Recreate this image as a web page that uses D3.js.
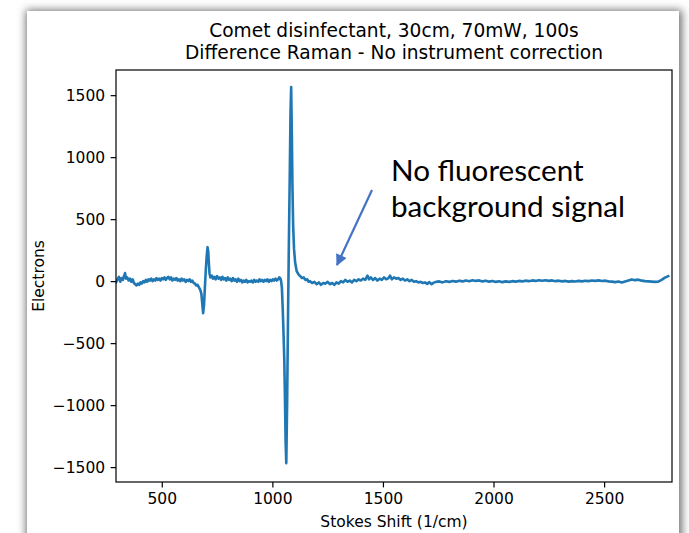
<!DOCTYPE html>
<html><head><meta charset="utf-8">
<script src="https://cdn.jsdelivr.net/npm/d3@7"></script>
<style>body{margin:0;background:#fff;overflow:hidden}</style>
</head><body>
<svg id="c" width="689" height="533"></svg>
<script>
// ---- data ----
const shiftX = [
293,300,306,312,318,324,330,334,338,344,350,356,362,368,374,380,386,392,398,404,410,416,422,428,434,440,446,452,458,464,470,476,482,488,494,500,506,512,518,524,530,536,542,548,554,560,566,572,578,584,590,596,602,608,614,620,626,632,638,644,650,656,662,668,674,679,683,687,691,695,699,703,707,710,713,716,720,
726,732,738,744,750,756,762,768,774,780,786,792,798,804,810,816,822,828,834,840,846,852,858,864,870,876,882,888,894,900,906,912,918,924,930,936,942,948,954,960,966,972,978,984,990,996,1002,1008,1014,1020,1026,1031,1035,1039,1043,1047,1051,1054,1057,1060,1063,1067,1071,1075,1079,1082,1085,1088,1091,1094,1098,1103,1110,1118,1126,1134,1142,1150,1158,1164,
1170,1180,1190,1200,1210,1220,1230,1240,1250,1260,1270,1280,1290,1300,1310,1320,1330,1340,1350,1360,1370,1380,1390,1400,1410,1420,1430,1437,1445,1455,1465,1475,1485,1495,1505,1515,1525,1532,1540,1550,1560,1570,1580,1590,1600,1610,1620,1630,1640,1650,1660,1670,1680,1690,1700,1710,1720,1730,1740,1755,1770,1785,1800,1815,1830,1845,1860,1875,1890,1905,1920,1935,1950,1965,1980,1995,2010,2025,2040,2055,2070,2085,2100,2115,2130,2145,2160,2175,2190,2205,2220,2235,2250,2265,2280,2295,2310,2325,2340,2355,2370,2385,2400,2415,2430,2445,2460,2475,2490,2505,2520,2535,2550,2565,2580,2595,2610,2625,2640,2655,2670,2685,2700,2715,2730,2745,2760,2775,2790,2800,2807
];
const electrons = [
-10,15,35,-5,25,10,45,65,20,30,5,20,-5,15,-15,-25,-35,-20,-30,-10,-20,0,-10,10,-5,15,5,20,0,15,5,25,10,20,5,25,15,30,10,25,35,15,30,5,20,10,25,5,15,0,20,5,15,-5,10,0,15,-5,5,-15,-20,-35,-30,-50,-70,-100,-180,-258,-190,-50,90,200,274,240,140,60,30,
45,20,35,15,40,20,30,10,35,15,25,5,30,10,20,0,25,5,15,-5,20,0,10,-10,5,-5,10,-10,0,-5,5,-10,10,-5,5,-5,15,0,10,-5,10,0,15,-5,10,0,15,5,20,5,15,30,25,5,-50,-230,-450,-640,-950,-1300,-1468,-950,-250,350,900,1350,1565,1200,750,450,260,150,80,55,40,25,30,10,15,-5,
0,-15,-5,-25,-10,-30,-15,-20,-5,-25,-15,-30,-10,-20,0,-10,10,-5,5,-10,10,0,15,5,20,10,45,15,30,10,25,5,20,10,30,15,25,45,15,30,20,25,10,20,5,15,0,10,-5,0,-10,-5,-15,-10,-22,-8,-25,-12,-6,-2,-10,0,-6,2,-4,4,-2,6,0,8,2,6,-2,4,-4,2,-6,0,-8,-2,-6,0,-4,2,-2,4,0,6,2,8,3,7,2,6,0,4,-2,2,-4,0,-3,2,-2,3,0,5,2,6,1,4,-2,-4,-8,-3,-10,-2,6,14,8,12,4,0,-2,-4,-6,-4,10,28,40
];
const xTicks = [500, 1000, 1500, 2000, 2500];
const yTicks = [-1500, -1000, -500, 0, 500, 1000, 1500];
const xLimits = [293, 2807];
const yLimits = [-1620, 1703];
const titleLines = ["Comet disinfectant, 30cm, 70mW, 100s", "Difference Raman - No instrument correction"];
const xLabel = "Stokes Shift (1/cm)";
const yLabel = "Electrons";
const noteLines = ["No fluorescent", "background signal"];

// ---- drawing ----
const svg = d3.select("#c");
const W = 689, H = 533;
const m = {left: 116, top: 70, right: 672, bottom: 482};
const font = "'DejaVu Sans', sans-serif";

const defs = svg.append("defs");
const f = defs.append("filter").attr("id", "sh").attr("x", "-10%").attr("y", "-10%").attr("width", "120%").attr("height", "120%");
f.append("feGaussianBlur").attr("stdDeviation", 4.5);
defs.append("clipPath").attr("id", "clip").append("rect")
  .attr("x", m.left).attr("y", m.top).attr("width", m.right - m.left).attr("height", m.bottom - m.top);
defs.append("marker").attr("id", "ah").attr("viewBox", "0 0 10 10").attr("refX", 9).attr("refY", 5)
  .attr("markerWidth", 5.6).attr("markerHeight", 5.2).attr("markerUnits", "strokeWidth").attr("orient", "auto")
  .append("path").attr("d", "M0,0 L10,5 L0,10 z").attr("fill", "#4472c4");

svg.append("rect").attr("width", W).attr("height", H).attr("fill", "#fff");
svg.append("rect").attr("x", 26).attr("y", 10).attr("width", 656).attr("height", 560)
  .attr("fill", "#6e6e6e").attr("filter", "url(#sh)");
svg.append("rect").attr("x", 27).attr("y", 11).attr("width", 652).attr("height", 560).attr("fill", "#fff");

const x = d3.scaleLinear().domain(xLimits).range([m.left, m.right]);
const y = d3.scaleLinear().domain(yLimits).range([m.bottom, m.top]);

const pts = shiftX.map((v, i) => [v, electrons[i]]);
svg.append("path").datum(pts)
  .attr("clip-path", "url(#clip)")
  .attr("fill", "none").attr("stroke", "#1f77b4").attr("stroke-width", 2.6)
  .attr("stroke-linejoin", "round").attr("stroke-linecap", "square")
  .attr("d", d3.line().x(d => x(d[0])).y(d => y(d[1])));

const fmt = v => String(v).replace("-", "\u2212");
const xa = svg.append("g").attr("transform", `translate(0,${m.bottom})`)
  .call(d3.axisBottom(x).tickValues(xTicks).tickFormat(fmt).tickSize(5.4).tickPadding(5.4));
const ya = svg.append("g").attr("transform", `translate(${m.left},0)`)
  .call(d3.axisLeft(y).tickValues(yTicks).tickFormat(fmt).tickSize(5.4).tickPadding(5.4));
[xa, ya].forEach(g => {
  g.select(".domain").remove();
  g.selectAll(".tick line").attr("stroke", "#000").attr("stroke-width", 1.2);
  g.selectAll(".tick text").attr("font-family", font).attr("font-size", 15.5).attr("fill", "#000");
});

svg.append("rect").attr("x", m.left).attr("y", m.top).attr("width", m.right - m.left).attr("height", m.bottom - m.top)
  .attr("fill", "none").attr("stroke", "#000").attr("stroke-width", 1.2);

const cx = (m.left + m.right) / 2;
svg.append("g").selectAll("text").data(titleLines).join("text")
  .attr("x", cx).attr("y", (d, i) => 37 + i * 22.3)
  .attr("text-anchor", "middle").attr("font-family", font).attr("font-size", 18.6).attr("fill", "#000")
  .text(d => d);
svg.append("text").attr("x", cx).attr("y", 527).attr("text-anchor", "middle")
  .attr("font-family", font).attr("font-size", 15.5).attr("fill", "#000").text(xLabel);
svg.append("text").attr("transform", `translate(44,${(m.top + m.bottom) / 2}) rotate(-90)`)
  .attr("text-anchor", "middle").attr("font-family", font).attr("font-size", 15.5).attr("fill", "#000").text(yLabel);

// annotation
const note = svg.append("g");
const nt = note.selectAll("text").data(noteLines).join("text")
  .attr("x", 391).attr("y", (d, i) => 181 + i * 36)
  .attr("font-family", "Lato, 'Open Sans', sans-serif").attr("font-size", 27).attr("fill", "#000")
  .text(d => d);
const len = nt.nodes()[1].getComputedTextLength();
nt.attr("font-size", 27 * 234 / len);
note.append("line").attr("x1", 372).attr("y1", 190).attr("x2", 337).attr("y2", 265)
  .attr("stroke", "#4472c4").attr("stroke-width", 2.2).attr("marker-end", "url(#ah)");
</script>
</body></html>
